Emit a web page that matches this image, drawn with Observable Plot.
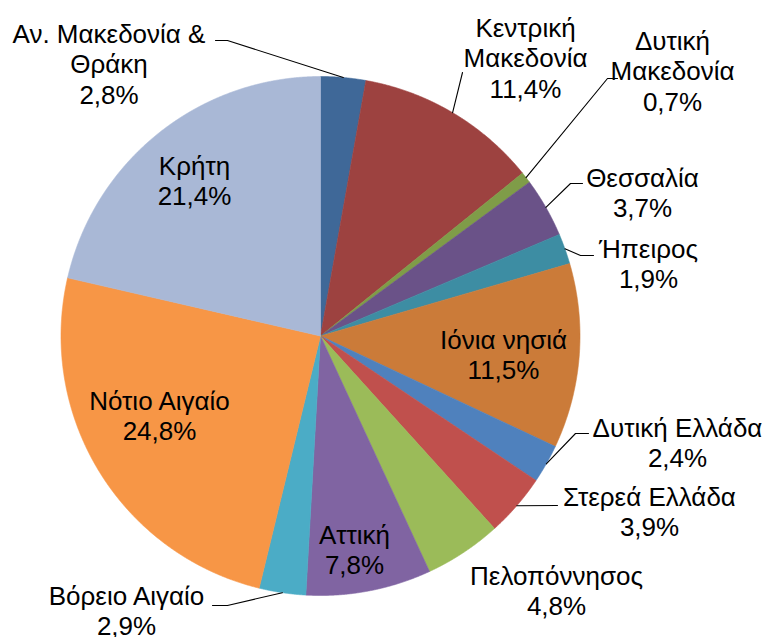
<!DOCTYPE html>
<html><head><meta charset="utf-8">
<script src="https://cdn.jsdelivr.net/npm/d3@7"></script>
<script src="https://cdn.jsdelivr.net/npm/@observablehq/plot@0.6"></script>
<style>body{margin:0;background:#fff}</style>
</head><body><div id="chart"></div>
<script>
// ---- data ----
const regions = ["Αν. Μακεδονία & Θράκη","Κεντρική Μακεδονία","Δυτική Μακεδονία","Θεσσαλία","Ήπειρος","Ιόνια νησιά","Δυτική Ελλάδα","Στερεά Ελλάδα","Πελοπόννησος","Αττική","Βόρειο Αιγαίο","Νότιο Αιγαίο","Κρήτη"];
const labelNames = ["Αν. Μακεδονία &\nΘράκη","Κεντρική\nΜακεδονία","Δυτική\nΜακεδονία","Θεσσαλία","Ήπειρος","Ιόνια νησιά","Δυτική Ελλάδα","Στερεά Ελλάδα","Πελοπόννησος","Αττική","Βόρειο Αιγαίο","Νότιο Αιγαίο","Κρήτη"];
const shares = [2.8, 11.4, 0.7, 3.7, 1.9, 11.5, 2.4, 3.9, 4.8, 7.8, 2.9, 24.8, 21.4];
const colors = ["#3F6898","#9D4240","#7F9C48","#6A5288","#3D8DA3","#CB7B39","#4F81BD","#C0504D","#9BBB59","#8064A2","#4BACC6","#F79646","#A9B8D6"];

// ---- layout (pixel space) ----
const W = 769, H = 637, cx = 320, cy = 335.5, R = 259.5;
const FS = 26;
const labelPos = [[108.5,63],[525,57],[672,70],[642,192],[648,263],[503,354],[677,442],[649,511],[556,589.5],[354,549],[126,610],[159,414.5],[194,179.5]];
const leaderTail = {
  0: [[227,40],[215,40]],
  1: [[462,72]],
  2: [[607,78],[617,78]],
  3: [[570,183],[582,183]],
  4: [[580,255],[593,255]],
  6: [[575,433],[588,433]],
  7: [[557,505]],
  10: [[227,605],[212,605]]
};

const data = regions.map((name, i) => ({name, value: shares[i], label: labelNames[i]}));
const arcs = d3.pie().sort(null).value(d => d.value)(data);
const fmt = v => d3.format(".1f")(v).replace(".", ",") + "%";

const slices = arcs.flatMap(a => {
  const n = Math.max(4, Math.ceil((a.endAngle - a.startAngle) / 0.003));
  const pts = [{name: a.data.name, x: cx, y: cy}];
  for (let k = 0; k <= n; k++) {
    const ang = a.startAngle + (a.endAngle - a.startAngle) * k / n;
    pts.push({name: a.data.name, x: cx + R * Math.sin(ang), y: cy - R * Math.cos(ang)});
  }
  pts.push({name: a.data.name, x: cx, y: cy});
  return pts;
});

const leaders = arcs.flatMap((a, i) => {
  if (!leaderTail[i]) return [];
  const m = (a.startAngle + a.endAngle) / 2;
  const start = {name: a.data.name, x: cx + R * Math.sin(m), y: cy - R * Math.cos(m)};
  return [start, ...leaderTail[i].map(([x, y]) => ({name: a.data.name, x, y}))];
});

const labels = arcs.map((a, i) => ({
  x: labelPos[i][0], y: labelPos[i][1],
  text: a.data.label + "\n" + fmt(a.data.value)
}));

const chart = Plot.plot({
  width: W, height: H,
  margin: 0,
  style: {background: "#fff", fontFamily: "'Liberation Sans', Arial, sans-serif"},
  x: {domain: [0, W], range: [0, W], axis: null},
  y: {domain: [0, H], range: [0, H], axis: null},
  color: {domain: regions, range: colors},
  marks: [
    Plot.line(slices, {x: "x", y: "y", z: "name", fill: "name", stroke: "name", strokeWidth: 0.6, curve: "linear"}),
    Plot.line(leaders, {x: "x", y: "y", z: "name", stroke: "#000", strokeWidth: 1.1, curve: "linear"}),
    Plot.text(labels, {x: "x", y: "y", text: "text", fontSize: FS, lineHeight: 1.17, textAnchor: "middle", lineAnchor: "middle", fill: "#000", fontFamily: "'Liberation Sans', Arial, sans-serif"})
  ]
});
document.getElementById("chart").appendChild(chart);
</script>
</body></html>
